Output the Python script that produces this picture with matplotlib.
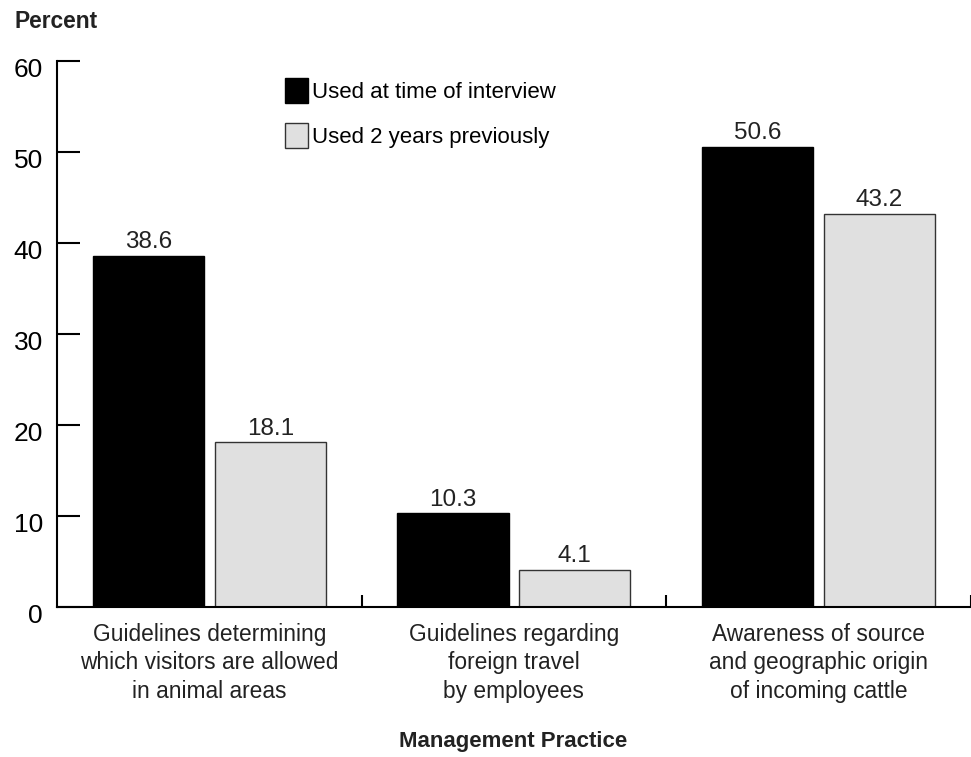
import numpy as np
import matplotlib.pyplot as plt
from matplotlib.transforms import ScaledTranslation

plt.rcParams['font.family'] = ['Liberation Sans', 'DejaVu Sans']

categories = ["Guidelines determining\nwhich visitors are allowed\nin animal areas",
              "Guidelines regarding\nforeign travel\nby employees",
              "Awareness of source\nand geographic origin\nof incoming cattle"]
current = [38.6, 10.3, 50.6]
previous = [18.1, 4.1, 43.2]
series_names = ["Used at time of interview", "Used 2 years previously"]

fig = plt.figure(figsize=(9.71, 7.57), dpi=100)
ax = fig.add_axes([0.0587, 0.198, 0.941, 0.721])

x = np.arange(len(categories)) + 0.5
w = 0.365
b1 = ax.bar(x - 0.2, current, w, color='black', edgecolor='black', linewidth=1)
b2 = ax.bar(x + 0.2, previous, w, color='#e0e0e0', edgecolor='#333333', linewidth=1)

for bars in (b1, b2):
    for r in bars:
        ax.text(r.get_x() + r.get_width() / 2, r.get_height() + 0.3,
                f"{r.get_height():.1f}", ha='center', va='bottom', fontsize=17.5,
                color='#222222')

ax.set_xlim(0, 3)
ax.set_ylim(0, 60)
ax.set_yticks(range(0, 61, 10))
ax.tick_params(axis='y', direction='in', length=16.5, width=1.5, labelsize=19, pad=10)
shift = ScaledTranslation(0, -6 / 100, fig.dpi_scale_trans)
for lbl in ax.get_yticklabels():
    lbl.set_transform(lbl.get_transform() + shift)

ax.set_xticks([1, 2, 3])
ax.set_xticklabels([])
ax.tick_params(axis='x', direction='in', length=9, width=1.5)
ax.set_xticks(x, minor=True)
ax.set_xticklabels(categories, minor=True, fontsize=16.4, linespacing=1.3,
                   color='#222222')
ax.tick_params(axis='x', which='minor', length=0, pad=11.5)

for s in ('top', 'right'):
    ax.spines[s].set_visible(False)
for s in ('left', 'bottom'):
    ax.spines[s].set_linewidth(1.5)

ax.legend([b1, b2], series_names, loc='upper left', bbox_to_anchor=(0.2497, 0.969),
          frameon=False, fontsize=16, handlelength=1.05, handleheight=1.35,
          handletextpad=0.15, labelspacing=0.9, borderpad=0, borderaxespad=0)

fig.text(0.015, 0.971, "Percent", fontsize=16.4, fontweight='bold', va='center',
         color='#222222')
fig.text(0.528, 0.021, "Management Practice", fontsize=16, fontweight='bold',
         ha='center', va='center', color='#222222')

fig.savefig("out.png", dpi=100)
